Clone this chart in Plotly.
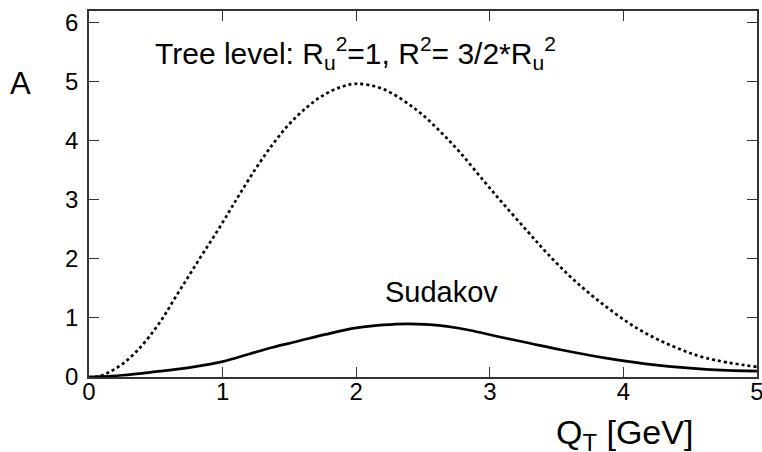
import plotly.graph_objects as go

# values
qt_tree = [0.0, 0.075, 0.15, 0.25, 0.35, 0.45, 0.55, 0.65, 0.75, 0.85, 0.95, 1.05, 1.13,
           1.255, 1.38, 1.50, 1.63, 1.75, 1.88, 2.0, 2.2, 2.45, 2.63, 2.78, 2.95, 3.10,
           3.28, 3.43, 3.63, 3.87, 4.12, 4.37, 4.62, 5.0]
a_tree = [0.0, 0.01, 0.08, 0.22, 0.42, 0.68, 0.99, 1.36, 1.72, 2.08, 2.43, 2.80, 3.10,
          3.55, 3.95, 4.28, 4.56, 4.76, 4.90, 4.96, 4.87, 4.52, 4.15, 3.79, 3.33, 2.93,
          2.47, 2.09, 1.64, 1.19, 0.80, 0.52, 0.32, 0.17]

qt_sud = [0.0, 0.25, 0.5, 0.75, 1.0, 1.2, 1.37, 1.555, 1.77, 2.0, 2.2, 2.38, 2.55,
          2.68, 2.85, 3.05, 3.3, 3.53, 3.87, 4.25, 4.62, 5.0]
a_sud = [0.0, 0.03, 0.09, 0.16, 0.26, 0.39, 0.50, 0.60, 0.72, 0.83, 0.88, 0.90, 0.885,
         0.855, 0.79, 0.69, 0.57, 0.46, 0.32, 0.20, 0.13, 0.10]

x_ticks = [0, 1, 2, 3, 4, 5]
y_ticks = [0, 1, 2, 3, 4, 5, 6]

FONT = "Liberation Sans, Arial, sans-serif"

fig = go.Figure()
fig.add_trace(go.Scatter(
    x=qt_tree, y=a_tree, mode="lines", line_shape="spline",
    line=dict(color="black", width=2.7, dash="dot"),
))
fig.add_trace(go.Scatter(
    x=qt_sud, y=a_sud, mode="lines", line_shape="spline",
    line=dict(color="black", width=2.7),
))

axis_style = dict(
    showgrid=False, zeroline=False, automargin=False,
    showline=True, linecolor="#333333", linewidth=1.5, mirror="allticks",
    ticks="inside", ticklen=10, tickwidth=1, tickcolor="#333333",
    ticklabeloverflow="allow",
    tickfont=dict(size=24, color="black", family=FONT),
)

fig.update_xaxes(range=[0, 5], tickvals=x_ticks, ticklabelstandoff=-8, **axis_style)
fig.update_yaxes(range=[0, 6.19], tickvals=y_ticks, ticklabelstandoff=4, **axis_style)

# plot area runs from x=89..757 px and y=11..377 px
fig.add_annotation(
    x=0.096, y=0.885, xref="paper", yref="paper", showarrow=False,
    xanchor="left", yanchor="middle",
    text="Tree level: R<sub>u</sub><sup>2</sup>=1, R<sup>2</sup>= 3/2*R<sub>u</sub><sup>2</sup>",
    font=dict(size=30, color="black", family=FONT),
)
fig.add_annotation(
    x=0.528, y=0.231, xref="paper", yref="paper", showarrow=False,
    xanchor="center", yanchor="middle", text="Sudakov",
    font=dict(size=29, color="black", family=FONT),
)
fig.add_annotation(
    x=-0.103, y=0.803, xref="paper", yref="paper", showarrow=False,
    xanchor="center", yanchor="middle", text="A",
    font=dict(size=31, color="black", family=FONT),
)
fig.add_annotation(
    x=0.802, y=-0.157, xref="paper", yref="paper", showarrow=False,
    xanchor="center", yanchor="middle", text="Q<sub>T</sub> [GeV]",
    font=dict(size=34, color="black", family=FONT),
)

fig.update_layout(
    width=762, height=452,
    margin=dict(l=89, r=5, t=11, b=75),
    paper_bgcolor="white", plot_bgcolor="white",
    showlegend=False,
)

# drop the page's default body margin so the figure sits at the window corner
fig.write_html(
    "out.html",
    config={"displayModeBar": False},
    post_script="document.body.style.margin='0';",
)
